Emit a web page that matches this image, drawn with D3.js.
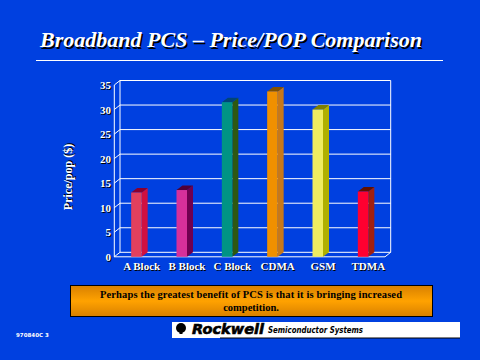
<!DOCTYPE html>
<html><head><meta charset="utf-8">
<script src="https://cdn.jsdelivr.net/npm/d3@7"></script>
<style>html,body{margin:0;padding:0;background:#0040E0;}svg{display:block;}</style>
</head><body>
<script>
const categories = ["A Block","B Block","C Block","CDMA","GSM","TDMA"];
const values = [13.1, 13.6, 31.5, 33.7, 30.0, 13.3];
const yTicks = [0,5,10,15,20,25,30,35];
const faceColors = ["#E2405E","#D6309A","#009484","#F09000","#EEEC60","#FF0030"];
const sideColors = ["#D01040","#700050","#2E5810","#C87818","#B0B000","#A02010"];
const topColors  = ["#8A0030","#500038","#004478","#805000","#808000","#601000"];
const title = "Broadband PCS \u2013 Price/POP Comparison";
const yLabel = "Price/pop ($)";
const noteLines = ["Perhaps the greatest benefit  of PCS is that it is bringing increased","competition."];

const W=480,H=360;
const svg=d3.select("body").append("svg").attr("width",W).attr("height",H);
svg.append("rect").attr("width",W).attr("height",H).attr("fill","#0040E0");
const serif="'Liberation Serif','Times New Roman',serif";

function shadowText(g,x,y,txt,opts,off){
  const o=off||1.5;
  const t1=g.append("text").attr("x",x+o).attr("y",y+o).attr("fill","#000").text(txt);
  const t2=g.append("text").attr("x",x).attr("y",y).attr("fill","#fff").text(txt);
  [t1,t2].forEach(t=>{for(const k in opts) t.attr(k,opts[k]);});
}
shadowText(svg,40,47,title,{"font-family":serif,"font-size":22,"font-weight":"bold","font-style":"italic","textLength":382,"lengthAdjust":"spacingAndGlyphs"});
svg.append("line").attr("x1",36).attr("x2",443).attr("y1",60.5).attr("y2",60.5).attr("stroke","#fff").attr("stroke-width",1);

// scales
const dx=5.7, dy=-4.5;
const y=d3.scaleLinear().domain([0,35]).range([256.8,85]);
const x=d3.scalePoint().domain(categories).range([119,391]).padding(0.5);
const backL=114.3+dx, backR=390.7;

const g=svg.append("g");
g.selectAll("line.grid").data(yTicks).enter().append("line")
  .attr("x1",backL).attr("x2",backR).attr("y1",d=>y(d)+dy).attr("y2",d=>y(d)+dy)
  .attr("stroke","#fff").attr("stroke-width",1);
g.append("line").attr("x1",backL).attr("x2",backL).attr("y1",y(35)+dy).attr("y2",y(0)+dy).attr("stroke","#fff");
g.append("line").attr("x1",backR).attr("x2",backR).attr("y1",y(35)+dy).attr("y2",y(0)+dy).attr("stroke","#fff");
g.append("line").attr("x1",114.3).attr("x2",114.3).attr("y1",y(35)).attr("y2",y(0)).attr("stroke","#fff");
g.selectAll("line.diag").data(yTicks).enter().append("line")
  .attr("x1",114.3).attr("y1",d=>y(d)).attr("x2",backL).attr("y2",d=>y(d)+dy)
  .attr("stroke","#fff");
g.append("line").attr("x1",114.3).attr("x2",backR-dx).attr("y1",y(0)).attr("y2",y(0)).attr("stroke","#fff");
g.append("line").attr("x1",backR-dx).attr("y1",y(0)).attr("x2",backR).attr("y2",y(0)+dy).attr("stroke","#fff");

const tl=svg.append("g");
yTicks.forEach(v=>{
  shadowText(tl,111,y(v)+4,String(v),{"font-family":serif,"font-size":11,"font-weight":"bold","text-anchor":"end"},1);
});

const bw=10.5, bd=6, bdy=-4.5;
const bars=svg.append("g");
categories.forEach((c,i)=>{
  const cx=x(c), x0=cx-10.5, x1=x0+bw, yt=y(values[i]), yb=y(0);
  bars.append("path").attr("d",`M${x1},${yt}L${x1+bd},${yt+bdy}L${x1+bd},${yb+bdy}L${x1},${yb}Z`).attr("fill",sideColors[i]);
  bars.append("path").attr("d",`M${x0},${yt}L${x0+bd},${yt+bdy}L${x1+bd},${yt+bdy}L${x1},${yt}Z`).attr("fill",topColors[i]);
  bars.append("rect").attr("x",x0).attr("y",yt).attr("width",bw).attr("height",yb-yt).attr("fill",faceColors[i]);
});

const cl=svg.append("g");
categories.forEach(c=>{
  shadowText(cl,x(c),270,c,{"font-family":serif,"font-size":11,"font-weight":"bold","text-anchor":"middle"},1);
});

const yl=svg.append("g").attr("transform","translate(72,177) rotate(-90)");
shadowText(yl,0,0,yLabel,{"font-family":serif,"font-size":12,"font-weight":"bold","text-anchor":"middle"},1);

const defs=svg.append("defs");
const grad=defs.append("linearGradient").attr("id","og").attr("x1",0).attr("x2",0).attr("y1",0).attr("y2",1);
grad.append("stop").attr("offset","0%").attr("stop-color","#D88000");
grad.append("stop").attr("offset","50%").attr("stop-color","#FFA200");
grad.append("stop").attr("offset","100%").attr("stop-color","#D88000");
svg.append("rect").attr("x",70.5).attr("y",285.5).attr("width",362).attr("height",31).attr("fill","url(#og)").attr("stroke","#000").attr("stroke-width",1);
noteLines.forEach((l,i)=>{
  const t=svg.append("text").attr("x",251).attr("y",298+i*13).attr("text-anchor","middle")
    .attr("font-family",serif).attr("font-size",10.5).attr("font-weight","bold").attr("fill","#000").text(l);
  if(i===0) t.attr("textLength",302).attr("lengthAdjust","spacing");
});

svg.append("rect").attr("x",172).attr("y",322).attr("width",288).attr("height",16).attr("fill","#fff");
svg.append("line").attr("x1",220).attr("x2",460).attr("y1",338).attr("y2",338).attr("stroke","#000").attr("stroke-width",1);
svg.append("circle").attr("cx",181).attr("cy",328).attr("r",5).attr("fill","#000");
svg.append("rect").attr("x",179.5).attr("y",328).attr("width",3).attr("height",6).attr("fill","#000");
svg.append("text").attr("x",192).attr("y",334).attr("font-family","'DejaVu Sans',sans-serif").attr("font-size",14)
  .attr("font-weight","bold").attr("font-style","italic").attr("fill","#000").attr("stroke","#000").attr("stroke-width",0.6)
  .attr("textLength",72).attr("lengthAdjust","spacingAndGlyphs").text("Rockwell");
svg.append("text").attr("x",268).attr("y",333).attr("font-family","'DejaVu Sans',sans-serif").attr("font-size",8)
  .attr("font-weight","bold").attr("font-style","italic").attr("fill","#000").attr("textLength",95).attr("lengthAdjust","spacingAndGlyphs").text("Semiconductor Systems");

svg.append("text").attr("x",16).attr("y",337).attr("font-family","'DejaVu Sans',sans-serif").attr("font-size",5.5)
  .attr("font-weight","bold").attr("fill","#fff").text("970840C  3");
</script>
</body></html>
